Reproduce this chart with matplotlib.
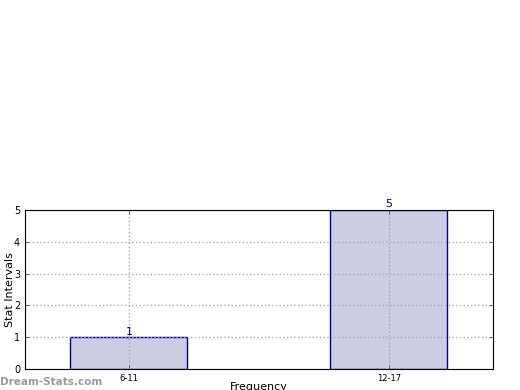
import matplotlib
matplotlib.use("Agg")
import matplotlib.pyplot as plt

# data
categories = ["6-11", "12-17"]
counts = [1, 5]
yticks = [0, 1, 2, 3, 4, 5]

fig = plt.figure(figsize=(5.2, 3.9), dpi=100)
ax = fig.add_axes([0.048, 0.054, 0.9, 0.4075])

xpos = list(range(len(categories)))
ax.bar(xpos, counts, width=0.45, color="#ccccE5", edgecolor="navy", linewidth=1, zorder=2)
for x, c in zip(xpos, counts):
    ax.text(x, c + 0.02, str(c), ha="center", va="bottom", color="navy", fontsize=8)

ax.set_xlim(-0.4, 1.4)
ax.set_ylim(0, 5)
ax.set_xticks(xpos)
ax.set_xticklabels(categories, fontsize=6)
ax.set_yticks(yticks)
ax.tick_params(axis="y", labelsize=7)
ax.tick_params(direction="in", top=True, right=True, length=3, width=0.6, color="#555555")
ax.grid(True, linestyle=":", color="#aaaaaa", linewidth=1, zorder=3)
ax.set_axisbelow(False)
for s in ax.spines.values():
    s.set_linewidth(0.8)
    s.set_zorder(4)

ax.set_ylabel("Stat Intervals", fontsize=8)
ax.yaxis.set_label_coords(-0.022, 0.5)
ax.set_xlabel("Frequency", fontsize=8)
ax.xaxis.set_label_coords(0.5, -0.08)

fig.text(0.0, 0.012, "Dream-Stats.com", fontsize=7.5, fontweight="bold", color="#999999")

fig.savefig("out.png", dpi=100)
